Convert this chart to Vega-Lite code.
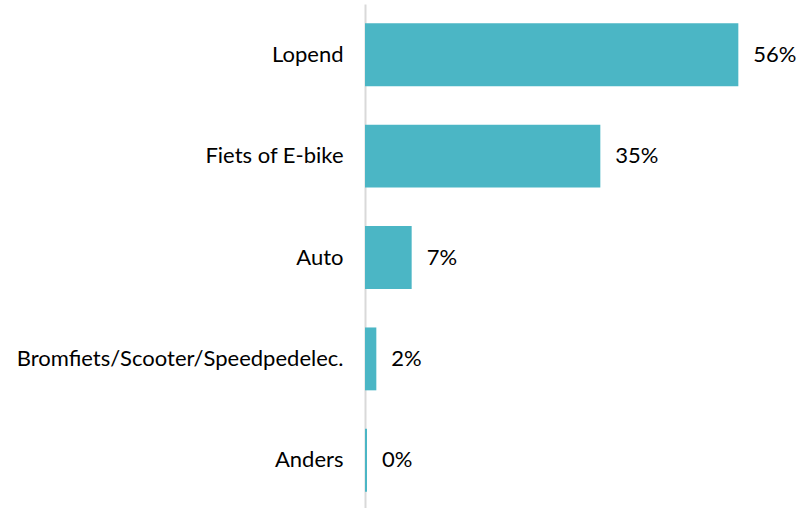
{
  "$schema": "https://vega.github.io/schema/vega-lite/v6.json",
  "width": 400,
  "height": 507,
  "autosize": {"type": "none"},
  "padding": {"left": 365, "top": 4, "right": 35, "bottom": 0},
  "background": "white",
  "config": {"view": {"stroke": null}, "font": "Lato"},
  "data": {
    "values": [
      {"mode": "Lopend", "value": 56, "label": "56%"},
      {"mode": "Fiets of E-bike", "value": 35.3, "label": "35%"},
      {"mode": "Auto", "value": 7, "label": "7%"},
      {"mode": "Bromfiets/Scooter/Speedpedelec.", "value": 1.7, "label": "2%"},
      {"mode": "Anders", "value": 0.3, "label": "0%"}
    ]
  },
  "encoding": {
    "y": {
      "field": "mode", "type": "nominal", "sort": null,
      "scale": {"paddingInner": 0.38, "paddingOuter": 0.19},
      "axis": {
        "title": null, "ticks": false, "labelFontSize": 22, "labelColor": "#000000",
        "labelPadding": 22, "labelLimit": 360, "domainColor": "#d9d9d9", "domainWidth": 2, "labelFont": "Lato"
      }
    },
    "x": {
      "field": "value", "type": "quantitative",
      "scale": {"domain": [0, 60], "nice": false},
      "axis": null
    }
  },
  "layer": [
    {"mark": {"type": "bar", "color": "#4BB6C5"}},
    {
      "mark": {"type": "text", "align": "left", "baseline": "middle", "dx": 15, "fontSize": 22, "color": "#000000", "font": "Lato"},
      "encoding": {"text": {"field": "label"}}
    }
  ]
}
